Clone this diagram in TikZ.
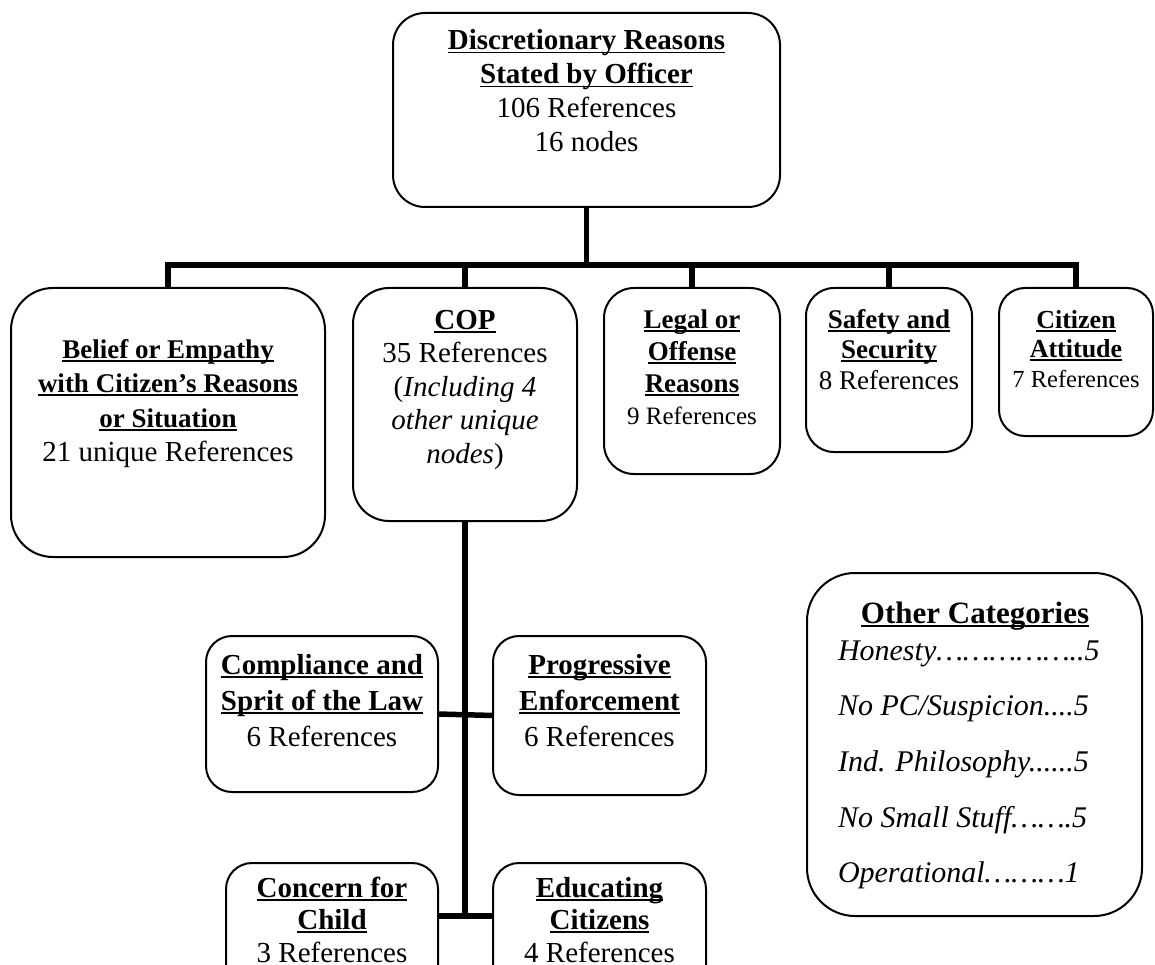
\documentclass[tikz,border=0pt]{standalone}
\usepackage{fontspec}
\setmainfont{Liberation Serif}

% underline drawn at a fixed depth below the baseline (crosses descenders)
\newsavebox\ulsave
\newcommand\ulbox[1]{\sbox\ulsave{#1}\rlap{\rule[-3.5pt]{\wd\ulsave}{1.8pt}}\usebox\ulsave}
% centred stack of lines whose reference point is the first baseline
\newcommand\stack[1]{\begin{tabular}[t]{@{}c@{}}#1\end{tabular}}
\newcommand\fs[2]{\fontsize{#1}{#2}\selectfont}

\begin{document}
\begin{tikzpicture}[x=1pt,y=-1pt,
  box/.style={draw, line width=2pt, rounded corners=#1, inner sep=0pt, outer sep=0pt},
  box/.default=30pt,
  conn/.style={line width=5.5pt, line join=miter},
  lbl/.style={anchor=base, inner sep=0pt, outer sep=0pt}]

\useasboundingbox (0,0) rectangle (1155,965);
\clip (0,0) rectangle (1155,965);

% ---------- boxes ----------
\node[box=32pt, minimum width=387pt, minimum height=194pt] (top)         at (586.5,110) {};
\node[box=42pt, minimum width=314pt, minimum height=269pt] (belief)      at (168,422.5) {};
\node[box=36pt, minimum width=224pt, minimum height=233pt] (cop)         at (465,404.5) {};
\node[box=30pt, minimum width=176pt, minimum height=186pt] (legal)       at (692,381) {};
\node[box=28pt, minimum width=166pt, minimum height=164pt] (safety)      at (889,370) {};
\node[box=26pt, minimum width=154pt, minimum height=148pt] (citizen)     at (1076,362) {};
\node[box=26pt, minimum width=232pt, minimum height=156pt] (compliance)  at (322,714) {};
\node[box=26pt, minimum width=213pt, minimum height=159pt] (progressive) at (599.5,715.5) {};
\node[box=26pt, minimum width=212pt, minimum height=147pt] (concern)     at (332,936.5) {};
\node[box=26pt, minimum width=213pt, minimum height=147pt] (educating)   at (599.5,936.5) {};
\node[box=48pt, minimum width=335pt, minimum height=343pt] (other)       at (974.5,744.5) {};

% ---------- connectors ----------
\coordinate (hub) at (586.5,265);
\coordinate (lowjoin) at (465,916);
\draw[conn] (top.south) -- (hub);
\foreach \n in {belief,cop,legal,safety,citizen}
  \draw[conn] (hub) -| (\n.north);
\draw[conn] (cop.south) -- (cop.south |- lowjoin);
\draw[conn] (compliance.east) -- (progressive.west);
\draw[conn] (concern.east |- lowjoin) -- (educating.west |- lowjoin);

% ---------- labels ----------
\node[lbl] (topText) at (586.5,50) {\fs{29}{34}\stack{%
  \textbf{\ulbox{Discretionary Reasons}}\\
  \textbf{\ulbox{Stated by Officer}}\\
  106 References\\
  16 nodes}};

\node[lbl] (beliefText) at (168,358) {\fs{27}{34.5}\stack{%
  \textbf{\ulbox{Belief or Empathy}}\\
  \textbf{\ulbox{with Citizen’s Reasons}}\\
  \textbf{\ulbox{or Situation}}\\
  {\fs{29}{34.5}21 unique References}}};

\node[lbl] (copText) at (465,329) {\fs{29}{33.5}\stack{%
  \textbf{\ulbox{COP}}\\
  35 References\\
  (\textit{Including 4}\\
  \textit{other unique}\\
  \textit{nodes})}};

\node[lbl] (legalText) at (692,328) {\fs{27}{32}\stack{%
  \textbf{\ulbox{Legal or}}\\
  \textbf{\ulbox{Offense}}\\
  \textbf{\ulbox{Reasons}}\\
  {\fs{25}{32}9 References}}};

\node[lbl] (safetyText) at (889,328) {\fs{27}{30.5}\stack{%
  \textbf{\ulbox{Safety and}}\\
  \textbf{\ulbox{Security}}\\
  8 References}};

\node[lbl] (citizenText) at (1076,328) {\fs{26}{29.5}\stack{%
  \textbf{\ulbox{Citizen}}\\
  \textbf{\ulbox{Attitude}}\\
  {\fs{24.5}{29.5}7 References}}};

\node[lbl] (complianceText) at (322,674) {\fs{29}{36}\stack{%
  \textbf{\ulbox{Compliance and}}\\
  \textbf{\ulbox{Sprit of the Law}}\\
  6 References}};

\node[lbl] (progressiveText) at (599.5,674) {\fs{29}{36}\stack{%
  \textbf{\ulbox{Progressive}}\\
  \textbf{\ulbox{Enforcement}}\\
  6 References}};

\node[lbl] (concernText) at (332,897) {\fs{29}{32.5}\stack{%
  \textbf{\ulbox{Concern for}}\\
  \textbf{\ulbox{Child}}\\
  3 References}};

\node[lbl] (educatingText) at (599.5,897) {\fs{29}{32.5}\stack{%
  \textbf{\ulbox{Educating}}\\
  \textbf{\ulbox{Citizens}}\\
  4 References}};

\node[lbl] (otherTitle) at (975,623) {\fs{31}{36}\textbf{\ulbox{Other Categories}}};
\node[lbl, anchor=base west] (otherList) at (838,660) {\fs{30}{55.7}%
  \begin{tabular}[t]{@{}l@{}}
  \textit{Honesty……………..5}\\
  \textit{No PC/Suspicion....5}\\
  \textit{Ind. Philosophy......5}\\
  \textit{No Small Stuff…….5}\\
  \textit{Operational………1}
  \end{tabular}};
\end{tikzpicture}
\end{document}
